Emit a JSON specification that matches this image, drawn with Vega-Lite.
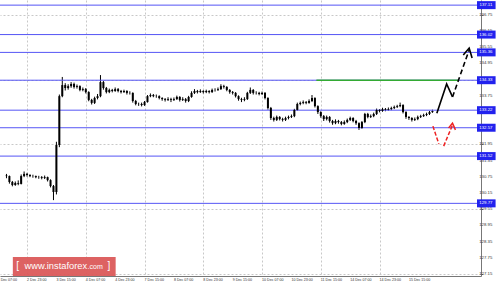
{
"$schema":"https://vega.github.io/schema/vega-lite/v6.json",
"width":481,"height":276,
"autosize":{"type":"none"},
"padding":{"left":0,"top":0,"right":19,"bottom":7},
"background":"white",
"config":{"view":{"stroke":null},"font":"Liberation Sans"},
"datasets":{
"candles":[
{"i":0,"o":130.80,"h":130.86,"l":130.70,"c":130.78},
{"i":1,"o":130.78,"h":130.80,"l":130.50,"c":130.56},
{"i":2,"o":130.56,"h":130.60,"l":130.40,"c":130.45},
{"i":3,"o":130.45,"h":130.58,"l":130.42,"c":130.52},
{"i":4,"o":130.52,"h":130.62,"l":130.44,"c":130.49},
{"i":5,"o":130.49,"h":130.84,"l":130.47,"c":130.78},
{"i":6,"o":130.78,"h":130.95,"l":130.74,"c":130.86},
{"i":7,"o":130.86,"h":130.90,"l":130.76,"c":130.82},
{"i":8,"o":130.82,"h":130.85,"l":130.74,"c":130.78},
{"i":9,"o":130.78,"h":130.83,"l":130.72,"c":130.78},
{"i":10,"o":130.78,"h":130.80,"l":130.70,"c":130.74},
{"i":11,"o":130.74,"h":130.79,"l":130.68,"c":130.74},
{"i":12,"o":130.74,"h":130.78,"l":130.66,"c":130.71},
{"i":13,"o":130.71,"h":130.80,"l":130.67,"c":130.74},
{"i":14,"o":130.74,"h":130.76,"l":130.58,"c":130.63},
{"i":15,"o":130.63,"h":130.66,"l":130.36,"c":130.41},
{"i":16,"o":130.41,"h":130.45,"l":129.89,"c":130.19},
{"i":17,"o":130.19,"h":132.05,"l":130.10,"c":131.93},
{"i":18,"o":131.93,"h":133.80,"l":131.85,"c":133.74},
{"i":19,"o":133.74,"h":134.45,"l":133.70,"c":134.15},
{"i":20,"o":134.15,"h":134.22,"l":133.95,"c":134.04},
{"i":21,"o":134.04,"h":134.18,"l":133.98,"c":134.11},
{"i":22,"o":134.11,"h":134.26,"l":134.05,"c":134.19},
{"i":23,"o":134.19,"h":134.24,"l":134.02,"c":134.08},
{"i":24,"o":134.08,"h":134.17,"l":134.02,"c":134.11},
{"i":25,"o":134.11,"h":134.14,"l":133.92,"c":133.97},
{"i":26,"o":133.97,"h":134.06,"l":133.92,"c":134.00},
{"i":27,"o":134.00,"h":134.04,"l":133.84,"c":133.89},
{"i":28,"o":133.89,"h":133.92,"l":133.55,"c":133.60},
{"i":29,"o":133.60,"h":133.64,"l":133.43,"c":133.49},
{"i":30,"o":133.49,"h":133.72,"l":133.45,"c":133.67},
{"i":31,"o":133.67,"h":133.82,"l":133.62,"c":133.74},
{"i":32,"o":133.74,"h":134.52,"l":133.70,"c":134.26},
{"i":33,"o":134.26,"h":134.30,"l":133.98,"c":134.04},
{"i":34,"o":134.04,"h":134.08,"l":133.84,"c":133.89},
{"i":35,"o":133.89,"h":134.02,"l":133.85,"c":133.97},
{"i":36,"o":133.97,"h":134.01,"l":133.88,"c":133.93},
{"i":37,"o":133.93,"h":134.06,"l":133.90,"c":134.00},
{"i":38,"o":134.00,"h":134.04,"l":133.88,"c":133.93},
{"i":39,"o":133.93,"h":133.97,"l":133.84,"c":133.89},
{"i":40,"o":133.89,"h":133.98,"l":133.86,"c":133.93},
{"i":41,"o":133.93,"h":133.96,"l":133.80,"c":133.86},
{"i":42,"o":133.86,"h":133.92,"l":133.80,"c":133.86},
{"i":43,"o":133.86,"h":133.88,"l":133.50,"c":133.56},
{"i":44,"o":133.56,"h":133.60,"l":133.40,"c":133.45},
{"i":45,"o":133.45,"h":133.50,"l":133.38,"c":133.45},
{"i":46,"o":133.45,"h":133.50,"l":133.36,"c":133.41},
{"i":47,"o":133.41,"h":133.56,"l":133.38,"c":133.52},
{"i":48,"o":133.52,"h":133.78,"l":133.50,"c":133.74},
{"i":49,"o":133.74,"h":133.84,"l":133.70,"c":133.78},
{"i":50,"o":133.78,"h":133.82,"l":133.70,"c":133.74},
{"i":51,"o":133.74,"h":133.80,"l":133.68,"c":133.74},
{"i":52,"o":133.74,"h":133.77,"l":133.62,"c":133.67},
{"i":53,"o":133.67,"h":133.70,"l":133.57,"c":133.63},
{"i":54,"o":133.63,"h":133.67,"l":133.54,"c":133.60},
{"i":55,"o":133.60,"h":133.70,"l":133.56,"c":133.63},
{"i":56,"o":133.63,"h":133.68,"l":133.52,"c":133.60},
{"i":57,"o":133.60,"h":133.69,"l":133.56,"c":133.63},
{"i":58,"o":133.63,"h":133.76,"l":133.60,"c":133.71},
{"i":59,"o":133.71,"h":133.74,"l":133.54,"c":133.60},
{"i":60,"o":133.60,"h":133.70,"l":133.56,"c":133.63},
{"i":61,"o":133.63,"h":133.67,"l":133.50,"c":133.56},
{"i":62,"o":133.56,"h":133.75,"l":133.52,"c":133.71},
{"i":63,"o":133.71,"h":133.92,"l":133.68,"c":133.86},
{"i":64,"o":133.86,"h":134.00,"l":133.82,"c":133.93},
{"i":65,"o":133.93,"h":133.97,"l":133.84,"c":133.89},
{"i":66,"o":133.89,"h":133.99,"l":133.86,"c":133.93},
{"i":67,"o":133.93,"h":133.96,"l":133.84,"c":133.89},
{"i":68,"o":133.89,"h":133.98,"l":133.85,"c":133.93},
{"i":69,"o":133.93,"h":133.96,"l":133.84,"c":133.89},
{"i":70,"o":133.89,"h":134.02,"l":133.86,"c":133.97},
{"i":71,"o":133.97,"h":134.03,"l":133.91,"c":133.97},
{"i":72,"o":133.97,"h":134.06,"l":133.93,"c":134.00},
{"i":73,"o":134.00,"h":134.18,"l":133.97,"c":134.11},
{"i":74,"o":134.11,"h":134.16,"l":134.02,"c":134.08},
{"i":75,"o":134.08,"h":134.11,"l":133.92,"c":133.97},
{"i":76,"o":133.97,"h":134.00,"l":133.83,"c":133.89},
{"i":77,"o":133.89,"h":133.93,"l":133.80,"c":133.86},
{"i":78,"o":133.86,"h":133.89,"l":133.69,"c":133.74},
{"i":79,"o":133.74,"h":133.77,"l":133.57,"c":133.63},
{"i":80,"o":133.63,"h":133.68,"l":133.52,"c":133.60},
{"i":81,"o":133.60,"h":133.70,"l":133.55,"c":133.63},
{"i":82,"o":133.63,"h":133.90,"l":133.60,"c":133.86},
{"i":83,"o":133.86,"h":134.06,"l":133.82,"c":133.97},
{"i":84,"o":133.97,"h":134.00,"l":133.80,"c":133.86},
{"i":85,"o":133.86,"h":133.92,"l":133.80,"c":133.86},
{"i":86,"o":133.86,"h":133.90,"l":133.77,"c":133.82},
{"i":87,"o":133.82,"h":133.91,"l":133.78,"c":133.86},
{"i":88,"o":133.86,"h":133.89,"l":133.62,"c":133.67},
{"i":89,"o":133.67,"h":133.70,"l":133.24,"c":133.30},
{"i":90,"o":133.30,"h":133.34,"l":132.86,"c":132.93},
{"i":91,"o":132.93,"h":132.98,"l":132.80,"c":132.86},
{"i":92,"o":132.86,"h":133.02,"l":132.82,"c":132.97},
{"i":93,"o":132.97,"h":133.00,"l":132.84,"c":132.89},
{"i":94,"o":132.89,"h":132.94,"l":132.80,"c":132.86},
{"i":95,"o":132.86,"h":132.98,"l":132.82,"c":132.93},
{"i":96,"o":132.93,"h":133.02,"l":132.88,"c":132.97},
{"i":97,"o":132.97,"h":133.06,"l":132.93,"c":133.00},
{"i":98,"o":133.00,"h":133.27,"l":132.96,"c":133.23},
{"i":99,"o":133.23,"h":133.50,"l":133.20,"c":133.45},
{"i":100,"o":133.45,"h":133.54,"l":133.40,"c":133.49},
{"i":101,"o":133.49,"h":133.58,"l":133.44,"c":133.52},
{"i":102,"o":133.52,"h":133.56,"l":133.44,"c":133.49},
{"i":103,"o":133.49,"h":133.62,"l":133.46,"c":133.56},
{"i":104,"o":133.56,"h":133.78,"l":133.52,"c":133.67},
{"i":105,"o":133.67,"h":133.70,"l":133.32,"c":133.37},
{"i":106,"o":133.37,"h":133.40,"l":133.08,"c":133.15},
{"i":107,"o":133.15,"h":133.18,"l":132.94,"c":133.00},
{"i":108,"o":133.00,"h":133.04,"l":132.82,"c":132.89},
{"i":109,"o":132.89,"h":133.02,"l":132.84,"c":132.97},
{"i":110,"o":132.97,"h":133.00,"l":132.76,"c":132.82},
{"i":111,"o":132.82,"h":132.86,"l":132.68,"c":132.74},
{"i":112,"o":132.74,"h":132.88,"l":132.70,"c":132.82},
{"i":113,"o":132.82,"h":132.86,"l":132.72,"c":132.78},
{"i":114,"o":132.78,"h":132.82,"l":132.66,"c":132.71},
{"i":115,"o":132.71,"h":132.84,"l":132.68,"c":132.78},
{"i":116,"o":132.78,"h":132.91,"l":132.74,"c":132.86},
{"i":117,"o":132.86,"h":132.98,"l":132.82,"c":132.93},
{"i":118,"o":132.93,"h":132.96,"l":132.77,"c":132.82},
{"i":119,"o":132.82,"h":132.86,"l":132.68,"c":132.74},
{"i":120,"o":132.74,"h":132.77,"l":132.49,"c":132.56},
{"i":121,"o":132.56,"h":132.82,"l":132.53,"c":132.78},
{"i":122,"o":132.78,"h":133.12,"l":132.74,"c":133.08},
{"i":123,"o":133.08,"h":133.12,"l":132.92,"c":132.97},
{"i":124,"o":132.97,"h":133.06,"l":132.93,"c":133.00},
{"i":125,"o":133.00,"h":133.13,"l":132.96,"c":133.08},
{"i":126,"o":133.08,"h":133.28,"l":133.04,"c":133.23},
{"i":127,"o":133.23,"h":133.26,"l":133.14,"c":133.19},
{"i":128,"o":133.19,"h":133.31,"l":133.16,"c":133.26},
{"i":129,"o":133.26,"h":133.30,"l":133.18,"c":133.23},
{"i":130,"o":133.23,"h":133.32,"l":133.20,"c":133.26},
{"i":131,"o":133.26,"h":133.35,"l":133.22,"c":133.30},
{"i":132,"o":133.30,"h":133.39,"l":133.26,"c":133.34},
{"i":133,"o":133.34,"h":133.42,"l":133.30,"c":133.37},
{"i":134,"o":133.37,"h":133.50,"l":133.33,"c":133.41},
{"i":135,"o":133.41,"h":133.44,"l":133.10,"c":133.15},
{"i":136,"o":133.15,"h":133.18,"l":132.90,"c":132.97},
{"i":137,"o":132.97,"h":133.00,"l":132.86,"c":132.93},
{"i":138,"o":132.93,"h":132.96,"l":132.80,"c":132.86},
{"i":139,"o":132.86,"h":132.95,"l":132.82,"c":132.89},
{"i":140,"o":132.89,"h":133.02,"l":132.85,"c":132.97},
{"i":141,"o":132.97,"h":133.05,"l":132.93,"c":133.00},
{"i":142,"o":133.00,"h":133.09,"l":132.97,"c":133.04},
{"i":143,"o":133.04,"h":133.13,"l":133.00,"c":133.08},
{"i":144,"o":133.08,"h":133.19,"l":133.04,"c":133.15},
{"i":145,"o":133.15,"h":133.24,"l":133.12,"c":133.19}
],
"levels":[{"p":137.11},{"p":136.02},{"p":135.36},{"p":134.33},{"p":133.22},{"p":132.57},{"p":131.52},{"p":129.77}],
"ylabels":[{"p":127.15},{"p":127.75},{"p":128.35},{"p":128.95},{"p":129.55},{"p":130.15},{"p":130.75},{"p":131.35},{"p":131.95},{"p":133.75},{"p":134.95},{"p":135.55},{"p":136.15},{"p":136.75}],
"xlabels":[{"i":-3,"t":"1 Dec 07:00"},{"i":7,"t":"2 Dec 23:00"},{"i":17,"t":"3 Dec 15:00"},{"i":27,"t":"4 Dec 07:00"},{"i":37,"t":"4 Dec 23:00"},{"i":47,"t":"7 Dec 15:00"},{"i":57,"t":"8 Dec 07:00"},{"i":67,"t":"8 Dec 23:00"},{"i":77,"t":"9 Dec 15:00"},{"i":87,"t":"10 Dec 07:00"},{"i":97,"t":"10 Dec 23:00"},{"i":107,"t":"11 Dec 15:00"},{"i":117,"t":"14 Dec 07:00"},{"i":127,"t":"14 Dec 23:00"},{"i":137,"t":"15 Dec 15:00"}],
"green":[{"i":105.5,"p":134.33},{"i":153.83,"p":134.33}],
"blackSolid":[{"i":146.5,"p":133.11},{"i":149.83,"p":134.19},{"i":151.83,"p":133.71}],
"blackDash":[{"i":151.83,"p":133.71},{"i":157.5,"p":135.45}],
"blackHead":[{"i":155.5,"p":135.26},{"i":157.5,"p":135.52},{"i":158.5,"p":135.15}],
"red":[{"g":1,"i":145.17,"p":132.63},{"g":1,"i":147.17,"p":131.97},{"g":2,"i":148.83,"p":131.89},{"g":2,"i":151.83,"p":132.67}],
"redHead":[{"i":150.5,"p":132.56},{"i":151.83,"p":132.74},{"i":152.83,"p":132.49}]
},
"layer":[
{"data":{"name":"candles"},"mark":{"type":"rule","color":"#000","strokeWidth":1},
 "encoding":{
  "x":{"field":"i","type":"quantitative","title":null,"scale":{"domain":[-0.5,159.83],"nice":false,"zero":false},
   "axis":{"values":[7,17,27,37,47,57,67,77,87,97,107,117,127,137],"labels":false,
    "grid":true,"gridColor":"#c8c8c8","gridDash":[2,2],"gridWidth":1,"ticks":false,"domainColor":"#777","domainWidth":1,"title":null}},
  "y":{"field":"l","type":"quantitative","title":null,"scale":{"domain":[127.08,137.30],"nice":false,"zero":false},
   "axis":{"orient":"right","values":[127.15,127.75,128.35,128.95,129.55,130.15,130.75,131.35,131.95,132.55,133.15,133.75,134.35,134.95,135.55,136.15,136.75],"labels":false,
    "grid":true,"gridColor":"#c8c8c8","gridDash":[2,2],"gridWidth":1,"ticks":true,"tickSize":2,"tickColor":"#777","domainColor":"#777","domainWidth":1,"title":null}},
  "y2":{"field":"h"}}},
{"data":{"name":"levels"},"mark":{"type":"rule","color":"#5555f5","strokeWidth":1},
 "encoding":{"y":{"field":"p","type":"quantitative","title":null}}},
{"data":{"name":"green"},"mark":{"type":"line","color":"#33aa33","strokeWidth":1.5},
 "encoding":{"x":{"field":"i","type":"quantitative","title":null},"y":{"field":"p","type":"quantitative","title":null}}},
{"data":{"name":"candles"},"mark":{"type":"bar","color":"#000","size":2},
 "encoding":{"x":{"field":"i","type":"quantitative","title":null},"y":{"field":"o","type":"quantitative","title":null},"y2":{"field":"c"}}},
{"data":{"name":"blackSolid"},"mark":{"type":"line","color":"#000","strokeWidth":1.6},
 "encoding":{"x":{"field":"i","type":"quantitative","title":null},"y":{"field":"p","type":"quantitative","title":null}}},
{"data":{"name":"blackDash"},"mark":{"type":"line","color":"#000","strokeWidth":1.6,"strokeDash":[5,3]},
 "encoding":{"x":{"field":"i","type":"quantitative","title":null},"y":{"field":"p","type":"quantitative","title":null}}},
{"data":{"name":"blackHead"},"mark":{"type":"line","color":"#000","strokeWidth":1.6},
 "encoding":{"x":{"field":"i","type":"quantitative","title":null},"y":{"field":"p","type":"quantitative","title":null}}},
{"data":{"name":"red"},"mark":{"type":"line","color":"#ee2222","strokeWidth":1.5,"strokeDash":[4,2]},
 "encoding":{"x":{"field":"i","type":"quantitative","title":null},"y":{"field":"p","type":"quantitative","title":null},"detail":{"field":"g"}}},
{"data":{"name":"redHead"},"mark":{"type":"line","color":"#ee2222","strokeWidth":1.5},
 "encoding":{"x":{"field":"i","type":"quantitative","title":null},"y":{"field":"p","type":"quantitative","title":null}}},
{"data":{"name":"xlabels"},"mark":{"type":"text","color":"#333","align":"left","baseline":"middle","fontSize":3.6},
 "encoding":{"x":{"field":"i","type":"quantitative","title":null},"y":{"datum":126.95},"text":{"field":"t"}}},
{"data":{"name":"ylabels"},"mark":{"type":"text","color":"#333","align":"left","baseline":"middle","fontSize":4.3},
 "encoding":{"x":{"datum":160.9},"y":{"field":"p","type":"quantitative","title":null},"text":{"field":"p","type":"quantitative","format":".2f"}}},
{"data":{"values":[{"t":1}]},"mark":{"type":"rect","color":"#db5a5a","opacity":0.95},
 "encoding":{"x":{"datum":2.17},"x2":{"datum":37.17},"y":{"datum":127.78},"y2":{"datum":127.08}}},
{"data":{"values":[{"s":"[","x":3.83},{"s":"]","x":34.83}]},"mark":{"type":"text","color":"white","align":"center","baseline":"alphabetic","fontSize":10},
 "encoding":{"x":{"field":"x","type":"quantitative","title":null},"y":{"datum":127.33},"text":{"field":"s"}}},
{"data":{"values":[{"s":"www.instaforex"}]},"mark":{"type":"text","color":"white","align":"left","baseline":"alphabetic","fontSize":9.3},
 "encoding":{"x":{"datum":6.17},"y":{"datum":127.33},"text":{"field":"s"}}},
{"data":{"values":[{"s":".com"}]},"mark":{"type":"text","color":"white","align":"left","baseline":"alphabetic","fontSize":7},
 "encoding":{"x":{"datum":27.6},"y":{"datum":127.33},"text":{"field":"s"}}},
{"data":{"name":"levels"},"mark":{"type":"rule","color":"#2222ee","strokeWidth":8,"strokeCap":"butt"},
 "encoding":{"x":{"datum":160.17},"x2":{"datum":166.5},"y":{"field":"p","type":"quantitative","title":null}}},
{"data":{"name":"levels"},"mark":{"type":"text","color":"white","align":"center","baseline":"middle","fontSize":4.3},
 "encoding":{"x":{"datum":163.2},"y":{"field":"p","type":"quantitative","title":null},"text":{"field":"p","type":"quantitative","format":".2f"}}}
]
}
